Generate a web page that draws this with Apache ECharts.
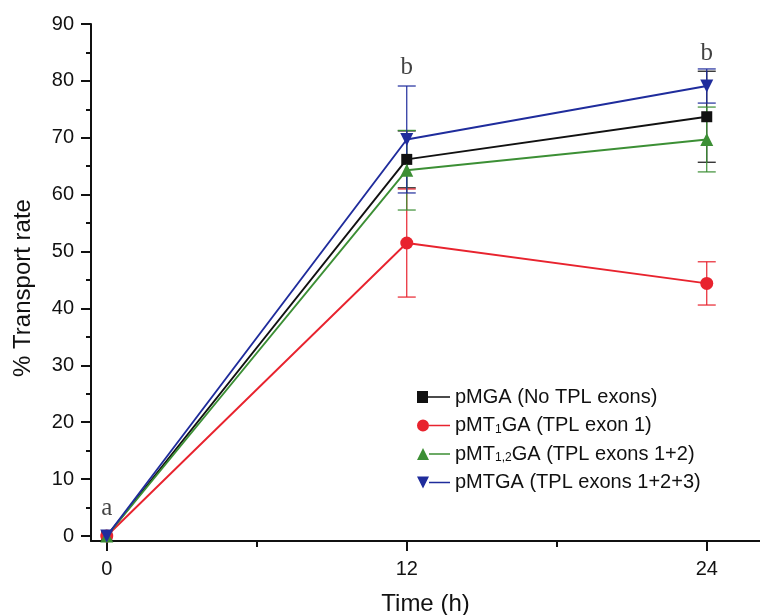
<!DOCTYPE html>
<html>
<head>
<meta charset="utf-8">
<script src="https://cdn.jsdelivr.net/npm/echarts@6/dist/echarts.min.js"></script>
<style>
  html, body { margin: 0; padding: 0; background: #fff; }
  #chart { width: 760px; height: 615px; }
</style>
</head>
<body>
<div id="chart"></div>
<script>
// Sampling times (h)
const hours = [0, 12, 24];

// Mean transport rate (%) and error for each construct
const pMGA      = [0, 66.2, 73.7];
const pMGA_err  = [0, 5.0, 8.0];
const pMT1GA     = [0, 51.5, 44.4];
const pMT1GA_err = [0, 9.5, 3.8];
const pMT12GA     = [0, 64.3, 69.7];
const pMT12GA_err = [0, 7.0, 5.7];
const pMTGA     = [0, 69.7, 79.1];
const pMTGA_err = [0, 9.4, 3.0];

// Tick positions
const yMajorTicks = [0, 10, 20, 30, 40, 50, 60, 70, 80, 90];
const yMinorTicks = [5, 15, 25, 35, 45, 55, 65, 75, 85];
const xMajorTicks = [0, 12, 24];
const xMinorTicks = [6, 18];

// Significance letters: [time, height, letter]
const letters = [[0, 4.9, 'a'], [12, 82.3, 'b'], [24, 84.9, 'b']];

const names = [
  'pMGA (No TPL exons)',
  'pMT1GA (TPL exon 1)',
  'pMT12GA (TPL exons 1+2)',
  'pMTGA (TPL exons 1+2+3)'
];
const legendRich = {
  'pMGA (No TPL exons)': '{n|pMGA (No TPL exons)}',
  'pMT1GA (TPL exon 1)': '{n|pMT}{s|1}{n|GA (TPL exon 1)}',
  'pMT12GA (TPL exons 1+2)': '{n|pMT}{s|1,2}{n|GA (TPL exons 1+2)}',
  'pMTGA (TPL exons 1+2+3)': '{n|pMTGA (TPL exons 1+2+3)}'
};

const colors = ['#111111', '#e8232e', '#3c8f35', '#1f2c9c'];
const means = [pMGA, pMT1GA, pMT12GA, pMTGA];
const errs = [pMGA_err, pMT1GA_err, pMT12GA_err, pMTGA_err];
const symbols = [
  { symbol: 'rect', size: 11, rotate: 0 },
  { symbol: 'circle', size: 13, rotate: 0 },
  { symbol: 'triangle', size: 13, rotate: 0 },
  { symbol: 'triangle', size: 13, rotate: 180 }
];

// Legend icons: marker on the left, line running to the right
const icons = [
  'path://M0,0.5H11V11.5H0Z M11,5.2H33V6.8H11Z',
  'path://M0,6A6,6 0 1,1 12,6A6,6 0 1,1 0,6Z M12,5.2H33V6.8H12Z',
  'path://M0,12L6,0L12,12Z M12,5.2H33V6.8H12Z',
  'path://M0,0L12,0L6,12Z M12,5.2H33V6.8H12Z'
];

function errorBarSeries(idx) {
  const data = hours.map((h, i) => [h, means[idx][i] - errs[idx][i], means[idx][i] + errs[idx][i]]);
  return {
    type: 'custom',
    name: names[idx] + ' error',
    z: 2,
    data: data,
    encode: { x: 0, y: [1, 2] },
    renderItem: function (params, api) {
      const x = api.value(0);
      const lo = api.coord([x, api.value(1)]);
      const hi = api.coord([x, api.value(2)]);
      if (Math.abs(hi[1] - lo[1]) < 0.5) return null;
      const w = 9;
      const style = { stroke: colors[idx], lineWidth: 1.2 };
      return {
        type: 'group',
        children: [
          { type: 'line', shape: { x1: lo[0], y1: lo[1], x2: hi[0], y2: hi[1] }, style: style },
          { type: 'line', shape: { x1: hi[0] - w, y1: hi[1], x2: hi[0] + w, y2: hi[1] }, style: style },
          { type: 'line', shape: { x1: lo[0] - w, y1: lo[1], x2: lo[0] + w, y2: lo[1] }, style: style }
        ]
      };
    }
  };
}

function lineSeries(idx) {
  return {
    type: 'line',
    name: names[idx],
    z: 3 + idx,
    data: hours.map((h, i) => [h, means[idx][i]]),
    symbol: symbols[idx].symbol,
    symbolSize: symbols[idx].size,
    symbolRotate: symbols[idx].rotate,
    showAllSymbol: true,
    lineStyle: { color: colors[idx], width: 1.9 },
    itemStyle: { color: colors[idx] },
    emphasis: { disabled: true }
  };
}

const axisColor = '#111111';
const font = 'Liberation Sans, Arial, sans-serif';
const chart = echarts.init(document.getElementById('chart'), null, { renderer: 'canvas' });

const option = {
  animation: false,
  backgroundColor: '#ffffff',
  grid: { left: 91, right: 0, top: 24, bottom: 74, containLabel: false, outerBoundsMode: 'none' },
  xAxis: [
    {
      type: 'value', min: -0.63, max: 26.13,
      axisLine: { show: true, onZero: false, lineStyle: { color: axisColor, width: 2 } },
      axisTick: { show: true, inside: false, length: 10, customValues: xMajorTicks, lineStyle: { color: axisColor, width: 2 } },
      axisLabel: { show: true, customValues: xMajorTicks, margin: 18, fontSize: 20, color: '#111', fontFamily: font },
      splitLine: { show: false },
      name: 'Time (h)', nameLocation: 'middle', nameGap: 51,
      nameTextStyle: { fontSize: 24, color: '#111', fontFamily: font }
    },
    {
      type: 'value', min: -0.63, max: 26.13, position: 'bottom',
      axisLine: { show: false, onZero: false },
      axisTick: { show: true, inside: false, length: 6, customValues: xMinorTicks, lineStyle: { color: axisColor, width: 2 } },
      axisLabel: { show: false },
      splitLine: { show: false }
    }
  ],
  yAxis: [
    {
      type: 'value', min: -0.88, max: 90,
      axisLine: { show: true, onZero: false, lineStyle: { color: axisColor, width: 2 } },
      axisTick: { show: true, inside: false, length: 10, customValues: yMajorTicks, lineStyle: { color: axisColor, width: 2 } },
      axisLabel: { show: true, customValues: yMajorTicks, margin: 17, fontSize: 20, color: '#111', fontFamily: font },
      splitLine: { show: false }
    },
    {
      type: 'value', min: -0.88, max: 90, position: 'left',
      axisLine: { show: false, onZero: false },
      axisTick: { show: true, inside: false, length: 5, customValues: yMinorTicks, lineStyle: { color: axisColor, width: 2 } },
      axisLabel: { show: false },
      splitLine: { show: false }
    }
  ],
  legend: {
    left: 417, top: 387, orient: 'vertical', padding: 0,
    itemWidth: 33, itemHeight: 12, itemGap: 8.5,
    symbolKeepAspect: false,
    selectedMode: false,
    data: names.map((n, i) => ({ name: n, icon: icons[i], itemStyle: { color: colors[i] } })),
    formatter: function (n) { return legendRich[n]; },
    textStyle: {
      fontSize: 20, color: '#111', lineHeight: 20,
      fontFamily: font,
      rich: {
        n: { fontSize: 20, lineHeight: 20, color: '#111', fontFamily: font },
        s: { fontSize: 12, lineHeight: 1, verticalAlign: 'bottom', color: '#111', fontFamily: font }
      }
    }
  },
  graphic: [
    {
      type: 'text', x: 23, y: 288, rotation: Math.PI / 2,
      style: {
        text: '% Transport rate', fontSize: 24, fill: '#111',
        fontFamily: font,
        align: 'center', verticalAlign: 'middle'
      }
    }
  ],
  series: [
    errorBarSeries(0), errorBarSeries(1), errorBarSeries(2), errorBarSeries(3),
    lineSeries(0), lineSeries(1), lineSeries(2), lineSeries(3),
    {
      type: 'scatter',
      name: 'letters',
      z: 10,
      data: letters,
      symbol: 'circle',
      symbolSize: 1,
      itemStyle: { color: 'rgba(0,0,0,0)' },
      silent: true,
      label: {
        show: true, position: 'inside',
        formatter: function (p) { return p.data[2]; },
        fontSize: 25, color: '#111',
        fontFamily: 'Liberation Serif, Times New Roman, serif'
      }
    }
  ]
};

chart.setOption(option);
</script>
</body>
</html>
